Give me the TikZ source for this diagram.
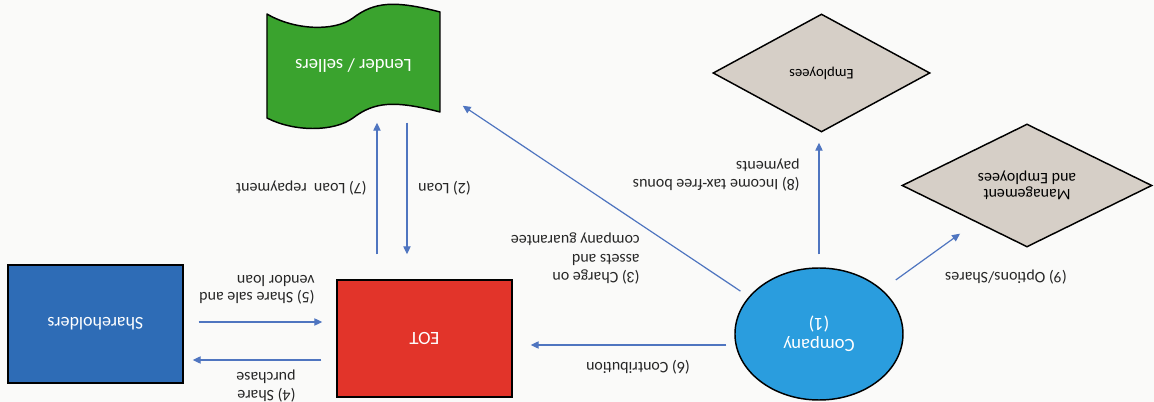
\documentclass[tikz,border=0pt]{standalone}
\usepackage{fontspec}
\setmainfont{Carlito}
\usetikzlibrary{arrows.meta,shapes.geometric,calc}

\definecolor{paper}{RGB}{250,250,249}
\definecolor{holderblue}{RGB}{46,108,182}
\definecolor{eotred}{RGB}{226,52,42}
\definecolor{companyblue}{RGB}{42,157,222}
\definecolor{lendergreen}{RGB}{58,163,46}
\definecolor{staffgrey}{RGB}{214,207,199}
\definecolor{arrowblue}{RGB}{79,117,192}

\begin{document}
\begin{tikzpicture}[x=0.75pt,y=0.75pt,rotate=180,transform shape,
    flow/.style={-{Triangle[length=6pt,width=5.5pt]},draw=arrowblue,line width=0.9pt},
    party/.style={draw=black,line width=1.1pt,text=white,inner sep=0pt,
        font=\fontsize{14}{16}\selectfont},
    member/.style={diamond,aspect=2,draw=black,line width=1.1pt,fill=staffgrey,
        align=center,inner sep=0pt},
    annot/.style={align=left,inner sep=0pt,text=black!85,
        font=\fontsize{12}{13}\selectfont}]

    \useasboundingbox[fill=paper] (0,0) rectangle (1154,402);

    %%% THE PARTIES
    \node[party,rectangle,fill=holderblue,minimum width=131.25pt,minimum height=88.5pt,
        font=\fontsize{13.5}{16}\selectfont] (sh) at (1058.5,324) {Shareholders};
    \node[party,rectangle,fill=eotred,minimum width=131.25pt,minimum height=87.75pt]
        (eot) at (729.5,338.5) {EOT};
    \node[party,ellipse,fill=companyblue,minimum width=126pt,minimum height=99pt,
        align=center] (comp) at (335,334) {Company\\(1)};

    % wavy banner for the lender, text node on top of it
    \filldraw[fill=lendergreen,draw=black,line width=1.1pt,line join=round]
        (714,12) .. controls (760,0) and (780,2) .. (801,18)
                 .. controls (820,32) and (860,30) .. (887,14)
        -- (887,118) .. controls (860,132) and (820,132) .. (801,118)
                 .. controls (780,102) and (760,100) .. (714,112) -- cycle;
    \node[party,rectangle,draw=none,minimum width=129.75pt,minimum height=81pt]
        (lender) at (800.5,66) {Lender / sellers};

    \node[member,minimum width=187.5pt,minimum height=92.25pt,
        font=\fontsize{12}{12}\selectfont] (mgmt) at (127,185.5) {Management\\and Employees};
    \node[member,minimum width=162.75pt,minimum height=88.5pt,
        font=\fontsize{11}{13}\selectfont] (emp) at (332.5,73) {Employees};

    %%% THE FLOWS
    \draw[flow,shorten <=11.25pt,shorten >=10.5pt] (sh.west |- 0,322) -- (eot.east |- 0,322);
    \draw[flow,shorten <=11.25pt,shorten >=6.75pt] (eot.east |- 0,360) -- (sh.west |- 0,360);
    \draw[flow,shorten <=6pt,shorten >=13.5pt] (comp.east |- 0,345) -- (eot.west |- 0,345);
    \draw[flow,shorten <=18.75pt,shorten >=1.5pt] (eot.south -| 777,0) -- (lender.north -| 777,0);
    \draw[flow,shorten <=1.5pt,shorten >=18.75pt] (lender.north -| 747,0) -- (eot.south -| 747,0);
    \draw[flow,shorten <=7.5pt] (comp.-28) -- ($(lender.north west)+(-22,-15)$);
    \draw[flow,shorten <=9.75pt,shorten >=7.5pt] (comp.south) -- (comp.south |- emp.north);
    \draw[flow,shorten <=12.5pt,shorten >=14.5pt] (comp.215) -- (mgmt);

    %%% LABELS
    \node[annot,anchor=west] (l5) at (839,290) {(5) Share sale and\\vendor loan};
    \node[annot] (l4) at (888,386) {(4) Share\\purchase};
    \node[annot] (l6) at (516,367) {(6) Contribution};
    \node[annot,anchor=west] (l7) at (787,188) {(7) Loan\ \ repayment};
    \node[annot,anchor=east] (l2) at (736,188) {(2) Loan};
    \node[annot,anchor=west,font=\fontsize{12}{14}\selectfont] (l3) at (514,258.5)
        {(3) Charge on\\assets and\\company guarantee};
    \node[annot,anchor=west] (l8) at (354,175) {(8) Income tax-free bonus\\payments};
    \node[annot] (l9) at (148,277) {(9) Options/Shares};

\end{tikzpicture}
\end{document}
